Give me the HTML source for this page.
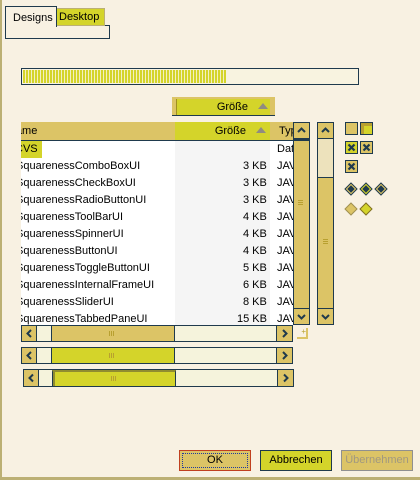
<!DOCTYPE html>
<html><head><meta charset="utf-8"><style>
*{margin:0;padding:0;box-sizing:border-box}
body{width:420px;height:480px;background:#f8f1e2;position:relative;overflow:hidden;font-family:"Liberation Sans",sans-serif;font-size:11px;color:#000}
.a{position:absolute}
.bd{border:1px solid #1f3a4d}
.tan{background:#dcc466}
.yel{background:#d4d42a}
.row{position:absolute;left:0;height:17px;line-height:17px;width:272px;white-space:nowrap}
.sb{position:absolute;width:16px;height:16px;background:#dcc466;border:1px solid #1f3a4d}
.sb svg{position:absolute;left:0;top:0}
.grip{position:absolute;width:6px;height:5px;background:repeating-linear-gradient(90deg,#b8a030 0 1px,transparent 1px 2px)}
.gripv{position:absolute;width:5px;height:6px;background:repeating-linear-gradient(0deg,#b8a030 0 1px,transparent 1px 2px)}
.btn{position:absolute;top:450px;width:72px;height:21px;text-align:center;line-height:19px}
</style></head><body>
<div class="a" style="left:0;top:0;width:2px;height:480px;background:#bcb074"></div>
<div class="a" style="left:0;top:477px;width:420px;height:3px;background:#bcb074"></div>

<!-- tabs -->
<div class="a bd" style="left:5px;top:25px;width:105px;height:14px;background:#f8f1e2"></div>
<div class="a yel" style="left:56px;top:8px;width:49px;height:18px;border:1px solid #bcb074;line-height:16px;padding-left:2px">Desktop</div>
<div class="a" style="left:5px;top:6px;width:52px;height:21px;border:1px solid #1f3a4d;border-bottom:none;background:#f8f1e2;line-height:22px;padding-left:7px">Designs</div>
<div class="a" style="left:6px;top:25px;width:50px;height:2px;background:#f8f1e2"></div>

<!-- progress -->
<div class="a bd" style="left:21px;top:68px;width:338px;height:17px;background:#f8f3e0"></div>
<div class="a" style="left:23px;top:70px;width:203px;height:13px;background:repeating-linear-gradient(90deg,#d4d42a 0 2px,#f4f0c0 2px 3px)"></div>

<!-- standalone header -->
<div class="a tan" style="left:172px;top:97px;width:103px;height:19px;border-bottom:1px solid #1f3a4d"></div>
<div class="a yel" style="left:176px;top:99px;width:94px;height:16px;line-height:16px;text-align:right;padding-right:22px;border-left:1px solid #a09020">Größe</div>
<div class="a" style="left:258px;top:103px;width:0;height:0;border-left:5px solid transparent;border-right:5px solid transparent;border-bottom:6px solid #908c80"></div>

<!-- table -->
<div class="a" style="left:21px;top:122px;width:272px;height:203px;overflow:hidden;background:#fff">
 <div class="a tan" style="left:0;top:0;width:272px;height:19px;border-bottom:1px solid #1f3a4d;line-height:18px"><span style="position:absolute;left:-13px">Name</span><span style="position:absolute;left:258px">Typ</span></div>
 <div class="a yel" style="left:154px;top:0;width:95px;height:18px;line-height:18px;text-align:right;padding-right:24px">Größe</div>
 <div class="a" style="left:235px;top:5px;width:0;height:0;border-left:5px solid transparent;border-right:5px solid transparent;border-bottom:6px solid #908c80"></div>
 <div class="a" style="left:154px;top:19px;width:95px;height:190px;background:#f5f5f5"></div>
 <div class="a yel" style="left:0;top:19px;width:21px;height:17px"></div>
 <div style="position:absolute;left:0;top:19px">
  <div class="row" style="top:0"><span class="a" style="left:-6px">CVS</span><span class="a" style="left:256px">Dat</span></div>
  <div class="row" style="top:17px"><span class="a" style="left:-5px">SquarenessComboBoxUI</span><span class="a" style="left:222px">3 KB</span><span class="a" style="left:256px">JAV</span></div>
  <div class="row" style="top:34px"><span class="a" style="left:-5px">SquarenessCheckBoxUI</span><span class="a" style="left:222px">3 KB</span><span class="a" style="left:256px">JAV</span></div>
  <div class="row" style="top:51px"><span class="a" style="left:-5px">SquarenessRadioButtonUI</span><span class="a" style="left:222px">3 KB</span><span class="a" style="left:256px">JAV</span></div>
  <div class="row" style="top:68px"><span class="a" style="left:-5px">SquarenessToolBarUI</span><span class="a" style="left:222px">4 KB</span><span class="a" style="left:256px">JAV</span></div>
  <div class="row" style="top:85px"><span class="a" style="left:-5px">SquarenessSpinnerUI</span><span class="a" style="left:222px">4 KB</span><span class="a" style="left:256px">JAV</span></div>
  <div class="row" style="top:102px"><span class="a" style="left:-5px">SquarenessButtonUI</span><span class="a" style="left:222px">4 KB</span><span class="a" style="left:256px">JAV</span></div>
  <div class="row" style="top:119px"><span class="a" style="left:-5px">SquarenessToggleButtonUI</span><span class="a" style="left:222px">5 KB</span><span class="a" style="left:256px">JAV</span></div>
  <div class="row" style="top:136px"><span class="a" style="left:-5px">SquarenessInternalFrameUI</span><span class="a" style="left:222px">6 KB</span><span class="a" style="left:256px">JAV</span></div>
  <div class="row" style="top:153px"><span class="a" style="left:-5px">SquarenessSliderUI</span><span class="a" style="left:222px">8 KB</span><span class="a" style="left:256px">JAV</span></div>
  <div class="row" style="top:170px"><span class="a" style="left:-5px">SquarenessTabbedPaneUI</span><span class="a" style="left:216px">15 KB</span><span class="a" style="left:256px">JAV</span></div>
 </div>
</div>

<!-- vertical scrollbar 1 -->
<div class="a tan" style="left:293px;top:122px;width:17px;height:203px;border:1px solid #1f3a4d"></div>
<div class="sb" style="left:293px;top:122px;width:17px;height:17px"><svg width="15" height="15"><polyline points="4,9 7.5,5.5 11,9" fill="none" stroke="#1f3a4d" stroke-width="2"/></svg></div>
<div class="a" style="left:293px;top:139px;width:17px;height:2px;background:#1f3a4d"></div>
<div class="sb" style="left:293px;top:308px;width:17px;height:17px"><svg width="15" height="15"><polyline points="4,6 7.5,9.5 11,6" fill="none" stroke="#1f3a4d" stroke-width="2"/></svg></div>
<div class="gripv" style="left:298px;top:199px"></div>
<div class="a" style="left:297px;top:328px;width:11px;height:11px;border-right:2px solid #dcc466;border-bottom:2px solid #dcc466;font-size:8px;color:#b8a030;text-align:right;line-height:8px">+</div>

<!-- vertical scrollbar 2 -->
<div class="a" style="left:317px;top:122px;width:17px;height:203px;border:1px solid #1f3a4d;background:#ede2bc"></div>
<div class="a tan" style="left:318px;top:177px;width:15px;height:131px;border-top:1px solid #1f3a4d"></div>
<div class="sb" style="left:317px;top:122px;width:17px;height:17px"><svg width="15" height="15"><polyline points="4,9 7.5,5.5 11,9" fill="none" stroke="#1f3a4d" stroke-width="2"/></svg></div>
<div class="sb" style="left:317px;top:308px;width:17px;height:17px"><svg width="15" height="15"><polyline points="4,6 7.5,9.5 11,6" fill="none" stroke="#1f3a4d" stroke-width="2"/></svg></div>
<div class="gripv" style="left:323px;top:238px"></div>

<!-- right controls -->
<div class="a tan" style="left:345px;top:122px;width:13px;height:13px;border:1px solid #1f3a4d"></div>
<div class="a yel" style="left:360px;top:122px;width:13px;height:13px;border:1px solid #1f3a4d;box-shadow:inset 3px 3px #b8a030"></div>
<svg class="a" style="left:345px;top:141px" width="30" height="33">
 <rect x="0.5" y="0.5" width="12" height="12" fill="#d4d42a" stroke="#1f3a4d"/>
 <rect x="15.5" y="0.5" width="12" height="12" fill="#dcc466" stroke="#1f3a4d"/>
 <rect x="0.5" y="19.5" width="12" height="12" fill="#dcc466" stroke="#1f3a4d"/>
 <g stroke="#1f3a4d" stroke-width="2.2"><path d="M3.5 3.5L9.5 9.5M9.5 3.5L3.5 9.5"/><path d="M18.5 3.5L24.5 9.5M24.5 3.5L18.5 9.5"/><path d="M3.5 22.5L9.5 28.5M9.5 22.5L3.5 28.5"/></g>
</svg>
<svg class="a" style="left:344px;top:182px" width="60" height="40">
 <g stroke="#1f3a4d" stroke-width="1">
  <polygon points="7,1 13,7 7,13 1,7" fill="#dcc466"/><polygon points="7,4 10,7 7,10 4,7" fill="#1f3a4d"/>
  <polygon points="22,1 28,7 22,13 16,7" fill="#d4d42a"/><polygon points="22,4 25,7 22,10 19,7" fill="#1f3a4d"/>
  <polygon points="37,1 43,7 37,13 31,7" fill="#dcc466"/><polygon points="37,4 40,7 37,10 34,7" fill="#1f3a4d"/>
  <polygon points="7,21 13,27 7,33 1,27" fill="#dcc466" stroke="#a09050"/>
  <polygon points="22,21 28,27 22,33 16,27" fill="#d4d42a" stroke="#807020"/>
 </g>
</svg>

<!-- horizontal scrollbars -->
<div class="a" style="left:21px;top:325px;width:272px;height:17px;border:1px solid #1f3a4d;background:#f5f3dc"></div>
<div class="a tan" style="left:51px;top:326px;width:124px;height:15px;border-left:1px solid #1f3a4d;border-right:1px solid #1f3a4d"></div>
<div class="sb" style="left:21px;top:325px;height:17px"><svg width="15" height="15"><polyline points="9,4 5.5,7.5 9,11" fill="none" stroke="#1f3a4d" stroke-width="2"/></svg></div>
<div class="sb" style="left:276px;top:325px;width:17px;height:17px"><svg width="15" height="15"><polyline points="6,4 9.5,7.5 6,11" fill="none" stroke="#1f3a4d" stroke-width="2"/></svg></div>
<div class="grip" style="left:109px;top:331px"></div>

<div class="a" style="left:21px;top:347px;width:272px;height:17px;border:1px solid #1f3a4d;background:#f5f3dc"></div>
<div class="a yel" style="left:51px;top:348px;width:124px;height:15px;border-left:1px solid #1f3a4d;border-right:1px solid #1f3a4d"></div>
<div class="sb" style="left:21px;top:347px;height:17px"><svg width="15" height="15"><polyline points="9,4 5.5,7.5 9,11" fill="none" stroke="#1f3a4d" stroke-width="2"/></svg></div>
<div class="sb" style="left:276px;top:347px;width:17px;height:17px"><svg width="15" height="15"><polyline points="6,4 9.5,7.5 6,11" fill="none" stroke="#1f3a4d" stroke-width="2"/></svg></div>
<div class="grip" style="left:109px;top:353px"></div>

<div class="a" style="left:23px;top:369px;width:271px;height:18px;border:1px solid #1f3a4d;background:#f5f3dc"></div>
<div class="a yel" style="left:52px;top:370px;width:124px;height:16px;border-left:1px solid #1f3a4d;border-right:1px solid #1f3a4d;border-top:2px solid #908c30;box-shadow:inset 2px 0 #908c30"></div>
<div class="sb" style="left:23px;top:369px;height:18px"><svg width="15" height="16"><polyline points="9,4.5 5.5,8 9,11.5" fill="none" stroke="#1f3a4d" stroke-width="2"/></svg></div>
<div class="sb" style="left:277px;top:369px;width:17px;height:18px"><svg width="15" height="16"><polyline points="6,4.5 9.5,8 6,11.5" fill="none" stroke="#1f3a4d" stroke-width="2"/></svg></div>
<div class="grip" style="left:111px;top:376px"></div>

<!-- buttons -->
<div class="btn tan" style="left:179px;border:1px solid #c04020"><div style="position:absolute;left:2px;top:2px;right:2px;bottom:2px;border:1px dotted #1f3a9d"></div>OK</div>
<div class="btn yel" style="left:260px;border:1px solid #1f3a4d">Abbrechen</div>
<div class="btn tan" style="left:341px;border:1px solid #909090;color:#a09880">Übernehmen</div>
</body></html>
